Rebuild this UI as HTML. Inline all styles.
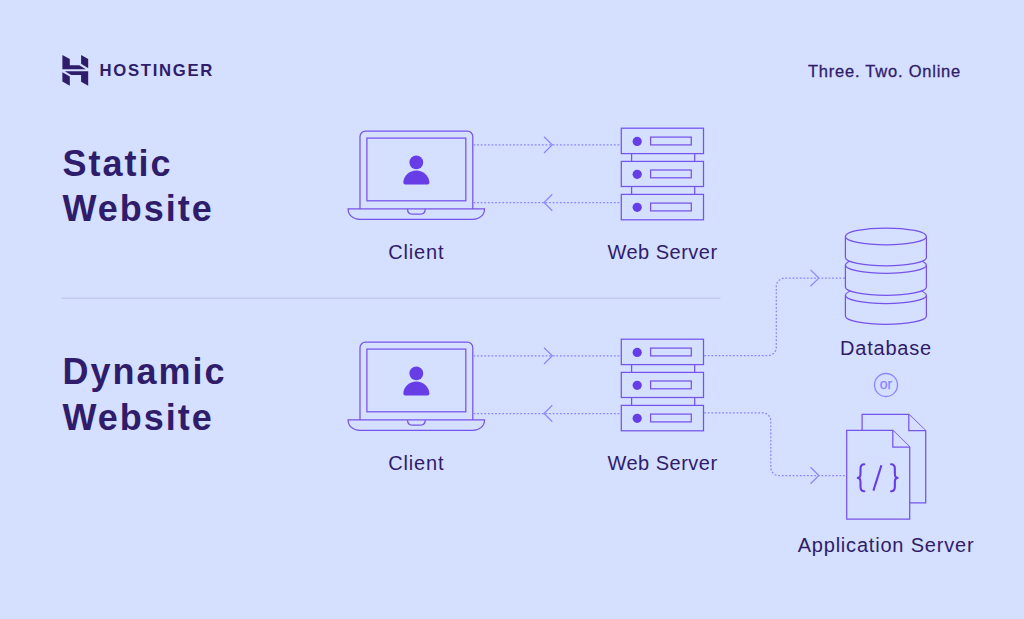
<!DOCTYPE html>
<html>
<head>
<meta charset="utf-8">
<title>Static vs Dynamic Website</title>
<style>
  html, body { margin: 0; padding: 0; }
  body {
    width: 1024px; height: 619px; overflow: hidden; position: relative;
    background: #D5DFFF;
    font-family: "Liberation Sans", sans-serif;
    color: #2F1C6A;
  }
  svg.art { position: absolute; left: 0; top: 0; width: 1024px; height: 619px; }
  .t { position: absolute; white-space: nowrap; line-height: 1; }
  .brand { left: 99.5px; top: 63px; font-size: 16.7px; font-weight: bold; letter-spacing: 1.7px; }
  .tag { left: 808px; top: 63.4px; font-size: 16.5px; letter-spacing: 0.77px; -webkit-text-stroke: 0.3px #2F1C6A; }
  .h { font-size: 36px; font-weight: bold; letter-spacing: 2px; }
  .lbl { font-size: 20px; letter-spacing: 0.8px; text-align: center; transform: translateX(-50%); }
  .or { font-size: 14px; color: #8C85FF; transform: translateX(-50%); -webkit-text-stroke: 0.25px #8C85FF; }
  .code { font-size: 30px; color: #673DE6; transform: translateX(-50%); letter-spacing: 1px; }
</style>
</head>
<body>
<svg class="art" viewBox="0 0 1024 619">
  <defs>
    <g id="laptop" fill="none" stroke="#7654E9" stroke-width="1.25">
      <path d="M360,208.9 V136.7 a5.5,5.5 0 0 1 5.5,-5.5 H467.3 a5.5,5.5 0 0 1 5.5,5.5 V208.9"/>
      <rect x="366.9" y="138.1" width="98.9" height="62.7"/>
      <path d="M348.1,208.9 H484.5 C484.5,215 479.5,219.3 473,219.3 H359.6 C353.1,219.3 348.1,215 348.1,208.9 Z"/>
      <path d="M407.5,208.9 C407.5,212.2 409.8,214.2 413,214.2 H419.7 C422.9,214.2 425.2,212.2 425.2,208.9"/>
      <circle cx="416.3" cy="162.4" r="6.9" fill="#673DE6" stroke="none"/>
      <path d="M403.3,182.6 C403.6,175.9 409.3,170.6 416.3,170.6 C423.3,170.6 429,175.9 429.4,182.6 C429.4,183.7 428.7,184.4 427.6,184.4 H405.1 C404,184.4 403.3,183.7 403.3,182.6 Z" fill="#673DE6" stroke="none"/>
    </g>
    <g id="server" fill="none" stroke="#7654E9" stroke-width="1.25">
      <path d="M631.6,153.6 V161.4 M694.7,153.6 V161.4 M631.6,186.5 V194.4 M694.7,186.5 V194.4"/>
      <rect x="621.3" y="128.2" width="82.2" height="25.4"/>
      <rect x="621.3" y="161.4" width="82.2" height="25.1"/>
      <rect x="621.3" y="194.4" width="82.2" height="25.4"/>
      <rect x="650.6" y="137.1" width="40.7" height="7.8"/>
      <rect x="650.6" y="170" width="40.7" height="7.8"/>
      <rect x="650.6" y="203.1" width="40.7" height="7.8"/>
      <g fill="#673DE6" stroke="none">
        <circle cx="637.2" cy="141.4" r="4.6"/>
        <circle cx="637.2" cy="174.3" r="4.6"/>
        <circle cx="637.2" cy="207.3" r="4.6"/>
      </g>
    </g>
    <g id="arrows" fill="none" stroke="#8C85FF" stroke-width="1.2">
      <path d="M473.5,144.8 H620.5 M473.5,202.5 H620.5" stroke-width="1.25" stroke-dasharray="1.8 1.8"/>
      <path d="M544,136.7 L552.3,144.8 L544,153"/>
      <path d="M552.3,194.3 L544,202.5 L552.3,210.7"/>
    </g>
  </defs>

  <!-- divider -->
  <path d="M61.2,298.2 H720.5" stroke="#C5CBEF" stroke-width="1.5" fill="none"/>

  <!-- Hostinger H mark -->
  <g fill="#2F1C6A">
    <path d="M62.4,54.9 L69.8,59.1 V65.2 H79.3 L85.8,69.3 H62.4 Z"/>
    <path d="M81.1,54.9 L88.2,59.1 V68.2 L81.1,63.7 Z"/>
    <path d="M88.2,85.8 L81.1,81.7 V75 H71.2 L64.8,71.2 H88.2 Z"/>
    <path d="M62.4,72.3 L69.8,76.5 V85.8 L62.4,81.6 Z"/>
  </g>

  <!-- static row -->
  <use href="#laptop"/>
  <use href="#arrows"/>
  <use href="#server"/>

  <!-- dynamic row -->
  <g transform="translate(0,211)">
    <use href="#laptop"/>
    <use href="#arrows"/>
    <use href="#server"/>
  </g>

  <!-- connectors to db / app server -->
  <g fill="none" stroke="#8C85FF" stroke-width="1.2">
    <path d="M704.2,355.6 H767.8 A8.5,8.5 0 0 0 776.3,347.1 V286.6 A8.5,8.5 0 0 1 784.8,278.1 H845" stroke-width="1.25" stroke-dasharray="1.8 1.8"/>
    <path d="M704.2,412.9 H762.8 A8,8 0 0 1 770.8,420.9 V467.5 A8,8 0 0 0 778.8,475.5 H846.4" stroke-width="1.25" stroke-dasharray="1.8 1.8"/>
    <path d="M810.5,269.9 L818.9,278.1 L810.5,286.3"/>
    <path d="M810.5,467.3 L818.9,475.5 L810.5,483.7"/>
  </g>

  <!-- database -->
  <g fill="#D5DFFF" stroke="#7654E9" stroke-width="1.25">
    <path d="M845.4,295.2 V315.9 A40.5,8.4 0 0 0 926.4,315.9 V295.2"/>
    <ellipse cx="885.9" cy="295.2" rx="40.5" ry="8.4"/>
    <path d="M845.4,265 V287 A40.5,8.4 0 0 0 926.4,287 V265"/>
    <ellipse cx="885.9" cy="265" rx="40.5" ry="8.4"/>
    <path d="M845.4,236.4 V257.5 A40.5,8.4 0 0 0 926.4,257.5 V236.4"/>
    <ellipse cx="885.9" cy="236.4" rx="40.5" ry="8.4"/>
  </g>

  <!-- or -->
  <circle cx="886" cy="385" r="11.5" fill="none" stroke="#8C85FF" stroke-width="1.3"/>

  <!-- application server docs -->
  <g fill="#D5DFFF" stroke="#7654E9" stroke-width="1.25" stroke-linejoin="miter">
    <path d="M862.1,414.4 H908.8 L925.7,430.7 V502.8 H862.1 Z"/>
    <path d="M908.8,414.4 V430.7 H925.7"/>
    <path d="M846.7,430.4 H892.8 L909.7,447 V519 H846.7 Z"/>
    <path d="M892.8,430.4 V447 H909.7"/>
  </g>
  <g fill="none" stroke="#673DE6" stroke-width="2.1" stroke-linecap="round" stroke-linejoin="round">
    <path d="M864.3,464.2 C861.6,464.2 860.5,465.6 860.5,468.7 V473.6 C860.5,476.2 859.7,477.9 857.8,477.9 C859.7,477.9 860.5,479.6 860.5,482.2 V486.8 C860.5,489.9 861.6,491.3 864.3,491.3"/>
    <path d="M891.05,464.2 C893.75,464.2 894.85,465.6 894.85,468.7 V473.6 C894.85,476.2 895.65,477.9 897.55,477.9 C895.65,477.9 894.85,479.6 894.85,482.2 V486.8 C894.85,489.9 893.75,491.3 891.05,491.3"/>
    <path d="M881.4,465.2 L873.4,490.6" stroke-linecap="butt"/>
  </g>
</svg>

<div class="t brand">HOSTINGER</div>
<div class="t tag">Three. Two. Online</div>

<div class="t h" style="left:62.4px; top:146px;">Static</div>
<div class="t h" style="left:62.4px; top:191px;">Website</div>
<div class="t h" style="left:62.4px; top:354px;">Dynamic</div>
<div class="t h" style="left:62.4px; top:400px;">Website</div>

<div class="t lbl" style="left:416.3px; top:241.6px;">Client</div>
<div class="t lbl" style="left:662.5px; top:241.6px; letter-spacing:0.5px;">Web Server</div>
<div class="t lbl" style="left:416.3px; top:452.6px;">Client</div>
<div class="t lbl" style="left:662.5px; top:452.6px; letter-spacing:0.5px;">Web Server</div>
<div class="t lbl" style="left:886px; top:338px;">Database</div>
<div class="t lbl" style="left:886px; top:534.5px;">Application Server</div>

<div class="t or" style="left:886px; top:376.5px;">or</div>
</body>
</html>
